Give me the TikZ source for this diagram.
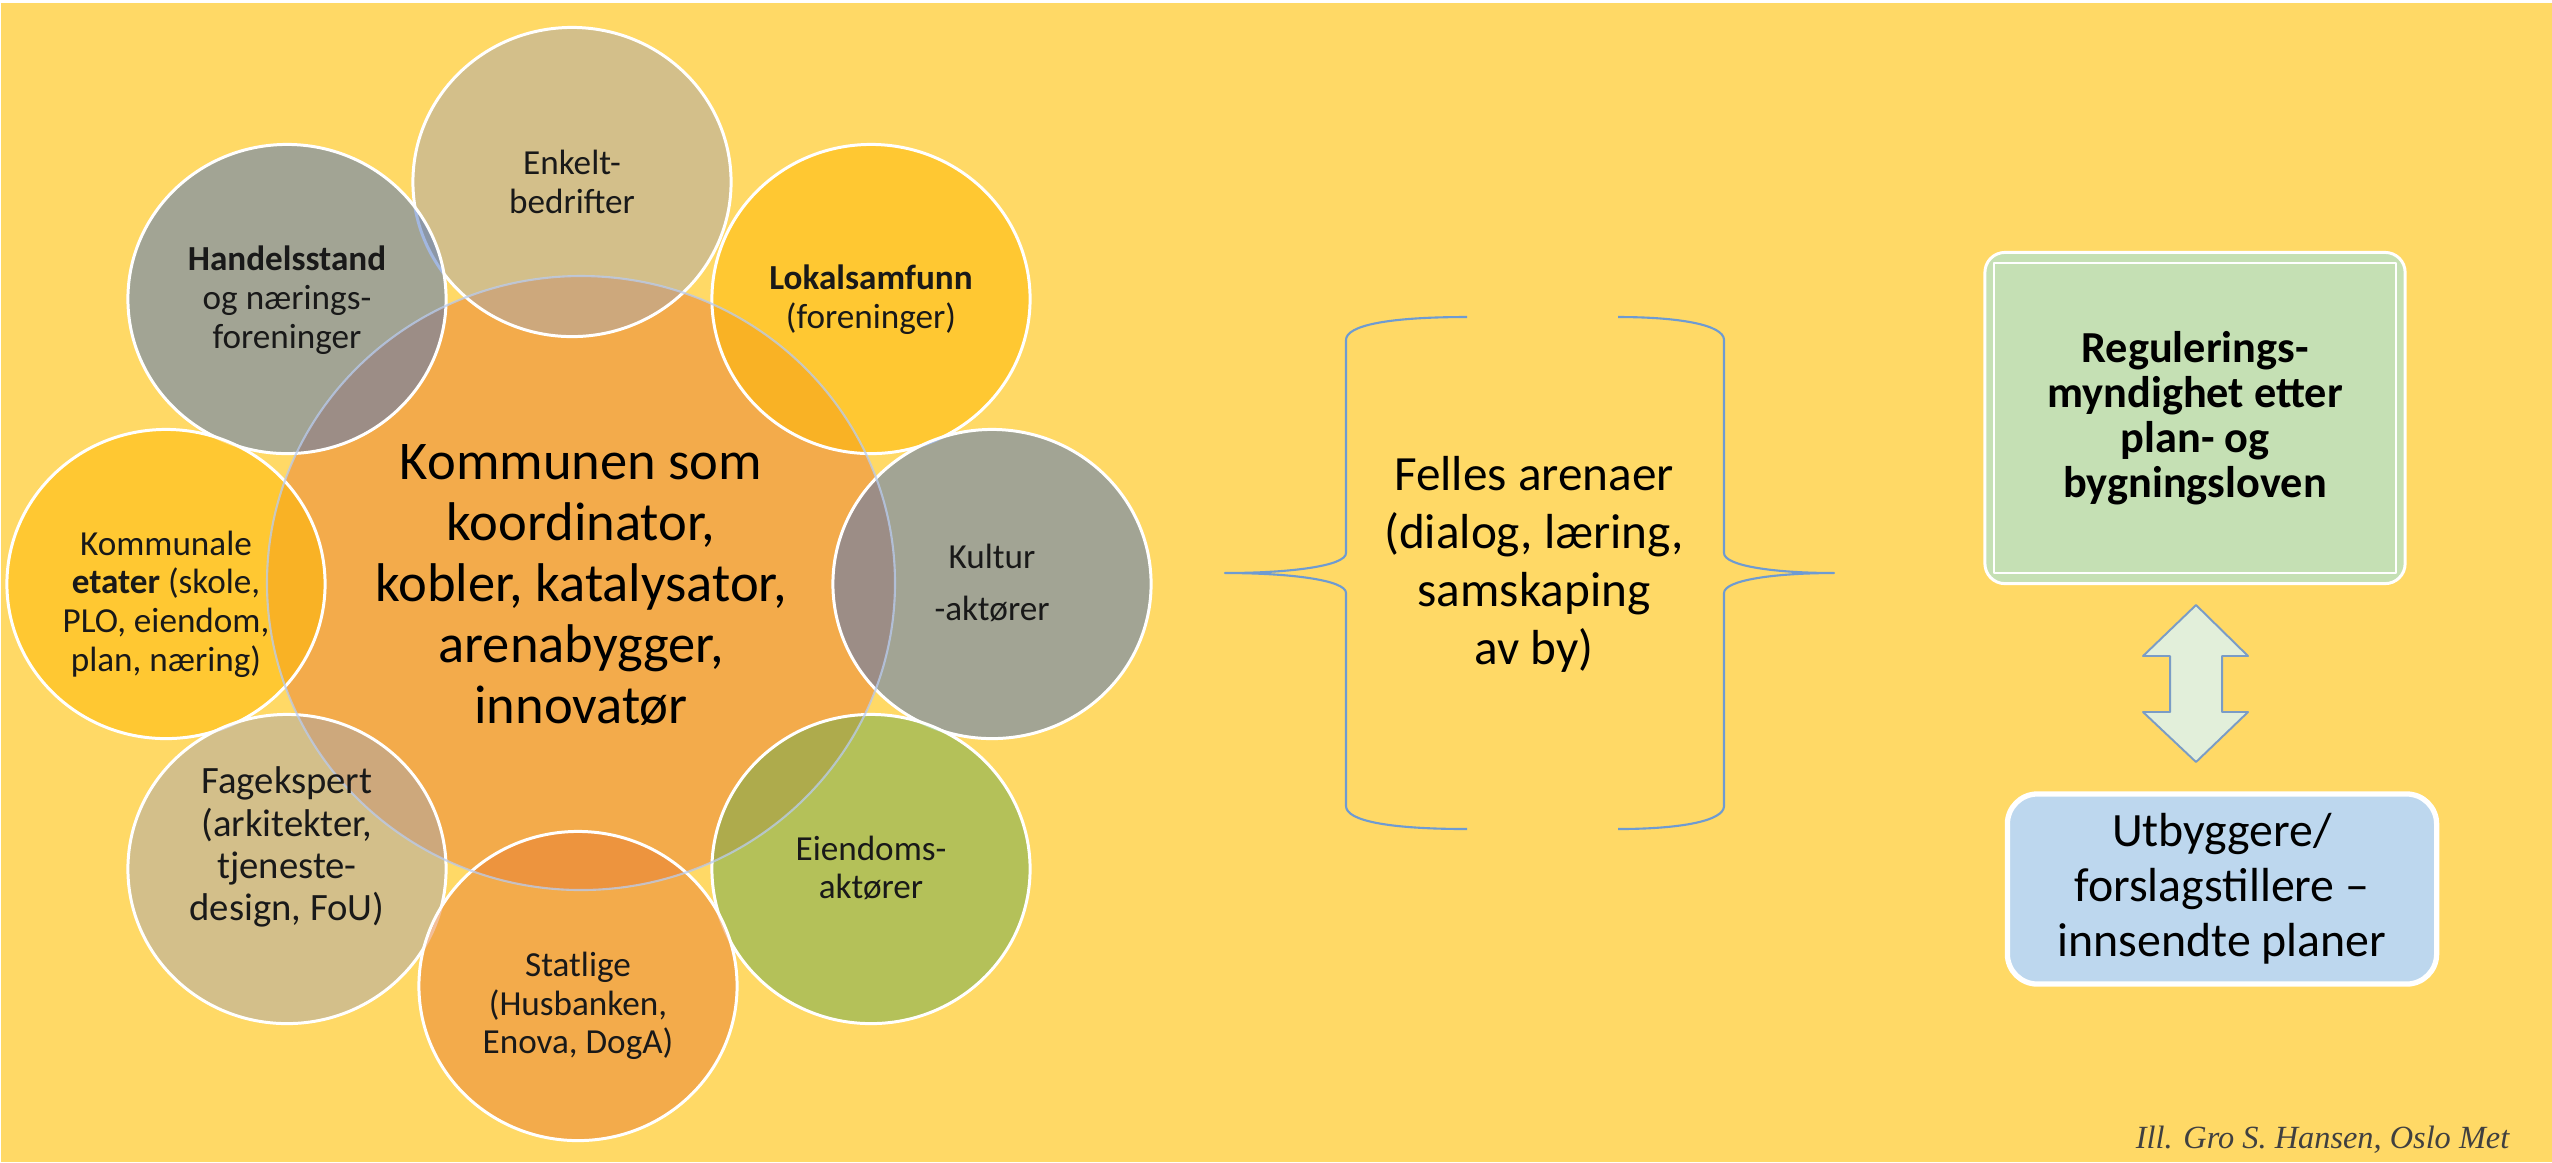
\documentclass[tikz,border=0pt]{standalone}
\usepackage{fontspec}
\setmainfont{Carlito}
\newfontfamily\creditfont{Liberation Serif}
\usetikzlibrary{shapes.geometric}

\definecolor{bgyellow}{RGB}{255,217,102}
\definecolor{hubfill}{RGB}{233,127,50}
\definecolor{tanfill}{RGB}{169,167,174}
\definecolor{grayfill}{RGB}{71,113,194}
\definecolor{goldfill}{RGB}{255,185,0}
\definecolor{greenfill}{RGB}{107,171,78}
\definecolor{orangefill}{RGB}{233,127,50}
\definecolor{rimblue}{RGB}{185,205,240}
\definecolor{braceblue}{RGB}{110,155,210}
\definecolor{regbox}{RGB}{197,224,180}
\definecolor{devbox}{RGB}{189,215,238}
\definecolor{arrowfill}{RGB}{226,239,218}
\definecolor{arrowline}{RGB}{122,156,198}
\definecolor{creditgray}{RGB}{64,64,64}

\tikzset{
  bubble/.style={ellipse,minimum width=3.18cm,minimum height=3.09cm,inner sep=0pt,
    fill opacity=0.5,draw=white,line width=0.85pt},
  hub/.style={ellipse,minimum width=6.28cm,minimum height=6.14cm,inner sep=0pt,
    fill=hubfill,fill opacity=0.5},
  bubbletext/.style={align=center,inner sep=0pt,text=black!90,
    font=\fontsize{10}{11}\selectfont},
  brace/.style={draw=braceblue,line width=0.6pt},
  infobox/.style={rounded corners=0.2cm,draw=white,align=center,inner sep=0pt}
}

\begin{document}
\begin{tikzpicture}[x=0.01cm,y=-0.01cm,line join=round]
  \useasboundingbox (0,0) rectangle (2552,1162);
  \fill[white] (0,0) rectangle (2552,1162);
  \fill[bgyellow] (1,3) rectangle (2552,1162);

  % radial venn
  \node[hub] (kommunen) at (581,583) {};
  \node[bubble,fill=tanfill] (enkelt) at (572,182) {};
  \node[bubble,fill=grayfill] (handel) at (287,299) {};
  \node[bubble,fill=goldfill] (lokal) at (871,299) {};
  \node[bubble,fill=goldfill] (etater) at (166,584) {};
  \node[bubble,fill=grayfill] (kultur) at (992,584) {};
  \node[bubble,fill=tanfill] (fag) at (287,869) {};
  \node[bubble,fill=greenfill] (eiendom) at (871,869) {};
  \node[bubble,fill=orangefill] (statlig) at (578,986) {};
  \draw[rimblue,draw opacity=0.75,line width=0.6pt] (kommunen.center) ellipse [x radius=314, y radius=307];

  \node[align=center,inner sep=0pt,font=\fontsize{15.5}{17.3}\selectfont] (kommunen-txt) at (581,585)
    {Kommunen som\\koordinator,\\kobler, katalysator,\\arenabygger,\\innovatør};
  \node[bubbletext] (enkelt-txt) at (572,182) {Enkelt-\\bedrifter};
  \node[bubbletext] (handel-txt) at (287,300) {\textbf{Handelsstand}\\og nærings-\\foreninger};
  \node[bubbletext] (lokal-txt) at (871,300) {\textbf{Lokalsamfunn}\\(foreninger)};
  \node[bubbletext] (etater-txt) at (166,604) {Kommunale\\\textbf{etater} (skole,\\PLO, eiendom,\\plan, næring)};
  \node[bubbletext] (kultur-txt) at (992,583) {Kultur\\[3.8pt]-aktører};
  \node[bubbletext,font=\fontsize{11}{12}\selectfont] (fag-txt) at (287,847) {Fagekspert\\(arkitekter,\\tjeneste-\\design, FoU)};
  \node[bubbletext] (eiendom-txt) at (871,868) {Eiendoms-\\aktører};
  \node[bubbletext] (statlig-txt) at (578,1006) {Statlige\\(Husbanken,\\Enova, DogA)};

  % braces
  \draw[brace] (1467,317) .. controls (1390,317) and (1346,325) .. (1346,340) -- (1346,553)
    .. controls (1346,566) and (1290,573) .. (1225,573)
    .. controls (1290,573) and (1346,580) .. (1346,593) -- (1346,806)
    .. controls (1346,821) and (1390,829) .. (1467,829);
  \draw[brace] (1618,317) .. controls (1680,317) and (1724,325) .. (1724,340) -- (1724,553)
    .. controls (1724,566) and (1775,573) .. (1834,573)
    .. controls (1775,573) and (1724,580) .. (1724,593) -- (1724,806)
    .. controls (1724,821) and (1680,829) .. (1618,829);
  \node[align=center,inner sep=0pt,font=\fontsize{14}{16.5}\selectfont] (arena) at (1534,564)
    {Felles arenaer\\(dialog, læring,\\samskaping\\av by)};

  % right side
  \node[infobox,fill=regbox,line width=0.85pt,minimum width=4.2cm,minimum height=3.31cm,
    font=\bfseries\fontsize{12.6}{12.8}\selectfont] (regulering) at (2195,418)
    {Regulerings-\\myndighet etter\\plan- og\\bygningsloven};
  \draw[white,line width=0.4pt] (1994,263) rectangle (2396,573);
  \node[infobox,fill=devbox,rounded corners=0.3cm,line width=1.5pt,minimum width=4.29cm,
    minimum height=1.9cm,font=\fontsize{13.6}{15.6}\selectfont] (utbygger) at (2222,889)
    {Utbyggere/\\forslagstillere –\\innsendte planer};
  \draw[fill=arrowfill,draw=arrowline,line width=0.55pt] (2196,605) -- (2248,656) -- (2222,656)
    -- (2222,712) -- (2248,712) -- (2196,762) -- (2143,712) -- (2170,712) -- (2170,656)
    -- (2143,656) -- cycle;

  \node[anchor=base east,inner sep=0pt,text=creditgray,font=\creditfont\itshape\fontsize{9.2}{11}\selectfont]
    (credit) at (2510,1148) {Ill. Gro S. Hansen, Oslo Met};
\end{tikzpicture}
\end{document}
